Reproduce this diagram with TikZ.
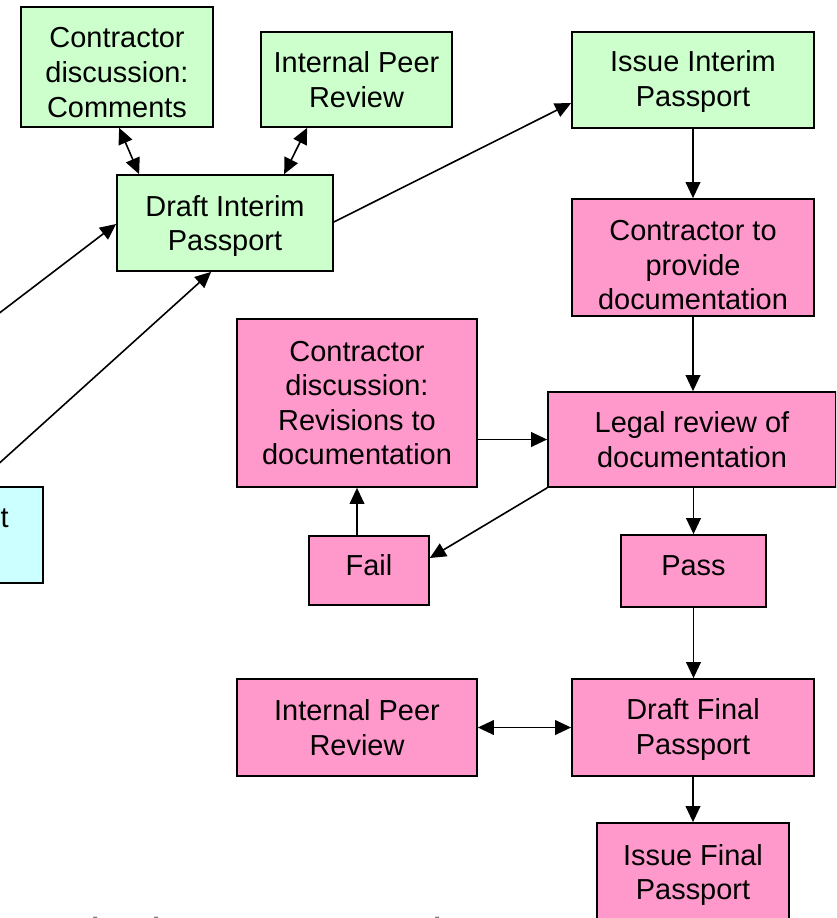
\documentclass[tikz,border=0pt]{standalone}
\usepackage{fontspec}
\setmainfont{Liberation Sans}
\usetikzlibrary{arrows.meta,calc}
\definecolor{gfill}{HTML}{CCFFCC}
\definecolor{pfill}{HTML}{FF99CC}
\definecolor{cfill}{HTML}{CCFFFF}
\newcommand{\tdn}[1]{\rule{0pt}{#1}}
\begin{document}
\begin{tikzpicture}[x=0.75pt,y=-0.75pt,
  box/.style={draw=black,line width=1.3pt,inner sep=0pt,align=center,
    font=\fontsize{21.7}{25.9}\selectfont},
  gbox/.style={box,fill=gfill},
  pbox/.style={box,fill=pfill},
  cbox/.style={box,fill=cfill},
  conn/.style={line width=1.2pt,-{Triangle[length=12pt,width=11pt]}},
  dconn/.style={line width=1.2pt,{Triangle[length=12pt,width=11pt]}-{Triangle[length=12pt,width=11pt]}}]
\useasboundingbox (0,0) rectangle (836,918);
\clip (0,0) rectangle (836,918);
\fill[white] (0,0) rectangle (836,918);

% green boxes
\node[gbox,minimum width=144pt,minimum height=90pt] (cdc) at (117,67) {\tdn{23.5pt}Contractor\\discussion:\\Comments};
\node[gbox,minimum width=143.25pt,minimum height=71.25pt] (ipr1) at (356.5,79.5) {Internal Peer\\Review};
\node[gbox,minimum width=162pt,minimum height=72pt] (dip) at (225,223) {\tdn{20pt}Draft Interim\\Passport};
\node[gbox,minimum width=181.5pt,minimum height=72pt] (iip) at (693,80) {\tdn{18pt}Issue Interim\\Passport};

% pink boxes
\node[pbox,minimum width=181.5pt,minimum height=87.75pt] (ctp) at (693,257.5) {\tdn{26.5pt}Contractor to\\provide\\documentation};
\node[pbox,minimum width=180pt,minimum height=126pt] (cdr) at (357,403) {Contractor\\discussion:\\Revisions to\\documentation};
\node[pbox,minimum width=216pt,minimum height=71.25pt] (lrd) at (692,439.5) {Legal review of\\documentation};
\node[pbox,text depth=7.5pt,minimum width=90pt,minimum height=51.75pt] (fail) at (369,570.5) {Fail};
\node[pbox,text depth=7.5pt,minimum width=108.75pt,minimum height=54pt] (pass) at (693.5,571) {Pass};
\node[pbox,minimum width=180pt,minimum height=72.75pt] (ipr2) at (357,727.5) {Internal Peer\\Review};
\node[pbox,minimum width=181.5pt,minimum height=72.75pt] (dfp) at (693,727.5) {\tdn{19pt}Draft Final\\Passport};
\node[pbox,minimum width=144pt,minimum height=78pt] (ifp) at (693,875) {Issue Final\\Passport};

% cyan box (mostly off the left edge)
\node[cbox,minimum width=182.25pt,minimum height=72pt] (cyan) at (-78.5,535) {};
\node[anchor=base east,inner sep=0pt,font=\fontsize{21.7}{25.9}\selectfont] (cyantext) at (9,527) {t};

% title cut by the bottom edge
\node[anchor=base west,inner sep=0pt,text=gray,font=\fontsize{34.5}{40}\selectfont] (title) at (62,950) {Final Passport review};

% connectors
\coordinate (lin) at (-150,427);
\draw[conn] (lin) -- ($(dip.west)+(0,1)$);
\draw[conn] ($(cyan.north east)+(-70,0)$) -- ($(dip.south west)+(95,0)$);
\draw[dconn] ($(cdc.south west)+(99,0)$) -- ($(dip.north west)+(23,0)$);
\draw[dconn] ($(ipr1.south west)+(47,0)$) -- ($(dip.north west)+(168,0)$);
\draw[conn] ($(dip.east)+(0,-1)$) -- ($(iip.west)+(0,23)$);
\draw[conn] (iip.south) -- (ctp.north);
\draw[conn] (ctp.south) -- (ctp.south |- lrd.north);
\draw[conn] (cdr.east |- lrd.west) -- (lrd.west);
\draw[conn] (lrd.south west) -- ($(fail.east)+(0,-12.5)$);
\draw[conn] (fail.north -| cdr.south) -- (cdr.south);
\draw[conn] (pass.north |- lrd.south) -- (pass.north);
\draw[conn] (pass.south) -- (pass.south |- dfp.north);
\draw[dconn] (ipr2.east) -- (dfp.west);
\draw[conn] (dfp.south) -- (ifp.north);
\end{tikzpicture}
\end{document}
